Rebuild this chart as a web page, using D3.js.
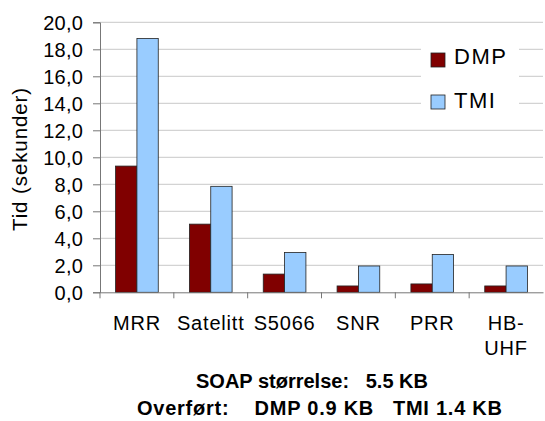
<!DOCTYPE html>
<html>
<head>
<meta charset="utf-8">
<script src="https://cdn.jsdelivr.net/npm/d3@7"></script>
<style>
  body { margin: 0; background: #fff; }
  text { font-family: Arial, "Liberation Sans", sans-serif; fill: #000; }
</style>
</head>
<body>
<div id="chart"></div>
<script>
// data
const categories = ["MRR", "Satelitt", "S5066", "SNR", "PRR", "HB-UHF"];
const seriesNames = ["DMP", "TMI"];
const dmpValues = [9.35, 5.05, 1.35, 0.47, 0.62, 0.47];
const tmiValues = [18.8, 7.85, 2.95, 1.95, 2.8, 1.95];
const yTicks = [0, 2, 4, 6, 8, 10, 12, 14, 16, 18, 20];
const colors = ["#800000", "#99ccff"];

const width = 545;
const height = 421;
const margin = { left: 100, right: 2, top: 22.3, bottom: 128.7 };

const svg = d3.select("#chart")
  .append("svg")
  .attr("width", width)
  .attr("height", height);

const x = d3.scaleBand()
  .domain(categories)
  .range([margin.left, width - margin.right]);

const xInner = d3.scaleBand()
  .domain(seriesNames)
  .range([0, x.bandwidth()])
  .paddingOuter(0.73);

const y = d3.scaleLinear()
  .domain([0, 20])
  .range([height - margin.bottom, margin.top]);

// gridlines
svg.append("g")
  .selectAll("line")
  .data(yTicks.slice(1))
  .enter().append("line")
  .attr("x1", margin.left)
  .attr("x2", width - margin.right)
  .attr("y1", d => y(d))
  .attr("y2", d => y(d))
  .attr("stroke", "#c8c8c8")
  .attr("stroke-width", 1);

// bars
const rows = categories.map((c, i) => ({ cat: c, values: [dmpValues[i], tmiValues[i]] }));

svg.append("g")
  .selectAll("g")
  .data(rows)
  .enter().append("g")
  .attr("transform", d => `translate(${x(d.cat)},0)`)
  .selectAll("rect")
  .data(d => d.values.map((v, j) => ({ name: seriesNames[j], value: v, color: colors[j] })))
  .enter().append("rect")
  .attr("x", d => xInner(d.name))
  .attr("width", xInner.bandwidth())
  .attr("y", d => y(d.value))
  .attr("height", d => y(0) - y(d.value))
  .attr("fill", d => d.color)
  .attr("stroke", "#222")
  .attr("stroke-width", 0.8);

// y axis
const yAxis = svg.append("g")
  .attr("transform", `translate(${margin.left},0)`)
  .call(d3.axisLeft(y)
    .tickValues(yTicks)
    .tickSize(7)
    .tickPadding(10)
    .tickFormat(d => d3.format(".1f")(d).replace(".", ",")));
yAxis.select(".domain").attr("stroke", "#777");
yAxis.selectAll(".tick line").attr("stroke", "#777");
yAxis.selectAll("text")
  .style("font-size", "20px")
  .style("letter-spacing", "0.2px")
  .attr("dy", "0.36em");

// x axis
const xAxis = svg.append("g")
  .attr("transform", `translate(0,${y(0)})`)
  .call(d3.axisBottom(x).tickSize(0).tickPadding(23.5));
xAxis.select(".domain").attr("stroke", "#777");
xAxis.selectAll("text")
  .style("font-size", "20px")
  .style("letter-spacing", "0.8px")
  .each(function(d) {
    const t = d3.select(this);
    if (d === "HB-UHF") {
      t.text(null);
      t.append("tspan").attr("x", 0).attr("dy", "0.71em").text("HB-");
      t.append("tspan").attr("x", 0).attr("dy", "1.25em").text("UHF");
    }
  });

// boundary ticks between categories
svg.append("g")
  .selectAll("line")
  .data(categories)
  .enter().append("line")
  .attr("x1", d => x(d))
  .attr("x2", d => x(d))
  .attr("y1", y(0))
  .attr("y2", y(0) + 6)
  .attr("stroke", "#777");

// y axis title
svg.append("text")
  .attr("transform", `translate(27,159) rotate(-90)`)
  .attr("text-anchor", "middle")
  .style("font-size", "20.5px")
  .style("letter-spacing", "0.9px")
  .text("Tid (sekunder)");

// legend
const legend = svg.append("g").attr("transform", "translate(421,44)");
legend.append("rect")
  .attr("width", 98)
  .attr("height", 74)
  .attr("fill", "#fff");

legend.selectAll("rect.key")
  .data(seriesNames)
  .enter().append("rect")
  .attr("class", "key")
  .attr("x", 10)
  .attr("y", (d, i) => 9 + i * 42)
  .attr("width", 14)
  .attr("height", 14)
  .attr("fill", (d, i) => colors[i])
  .attr("stroke", "#222")
  .attr("stroke-width", 0.8);

legend.selectAll("text")
  .data(seriesNames)
  .enter().append("text")
  .attr("x", 33)
  .attr("y", (d, i) => 20 + i * 44)
  .style("font-size", "22px")
  .style("letter-spacing", "1.5px")
  .text(d => d);

// captions
svg.append("text")
  .attr("x", 196)
  .attr("y", 388)
  .attr("textLength", 232)
  .attr("lengthAdjust", "spacing")
  .style("font-size", "20px")
  .style("font-weight", "bold")
  .style("white-space", "pre")
  .text("SOAP størrelse:   5.5 KB");

svg.append("text")
  .attr("x", 137)
  .attr("y", 415)
  .attr("textLength", 365)
  .attr("lengthAdjust", "spacing")
  .style("font-size", "20px")
  .style("font-weight", "bold")
  .style("white-space", "pre")
  .text("Overført:    DMP 0.9 KB   TMI 1.4 KB");
</script>
</body>
</html>
